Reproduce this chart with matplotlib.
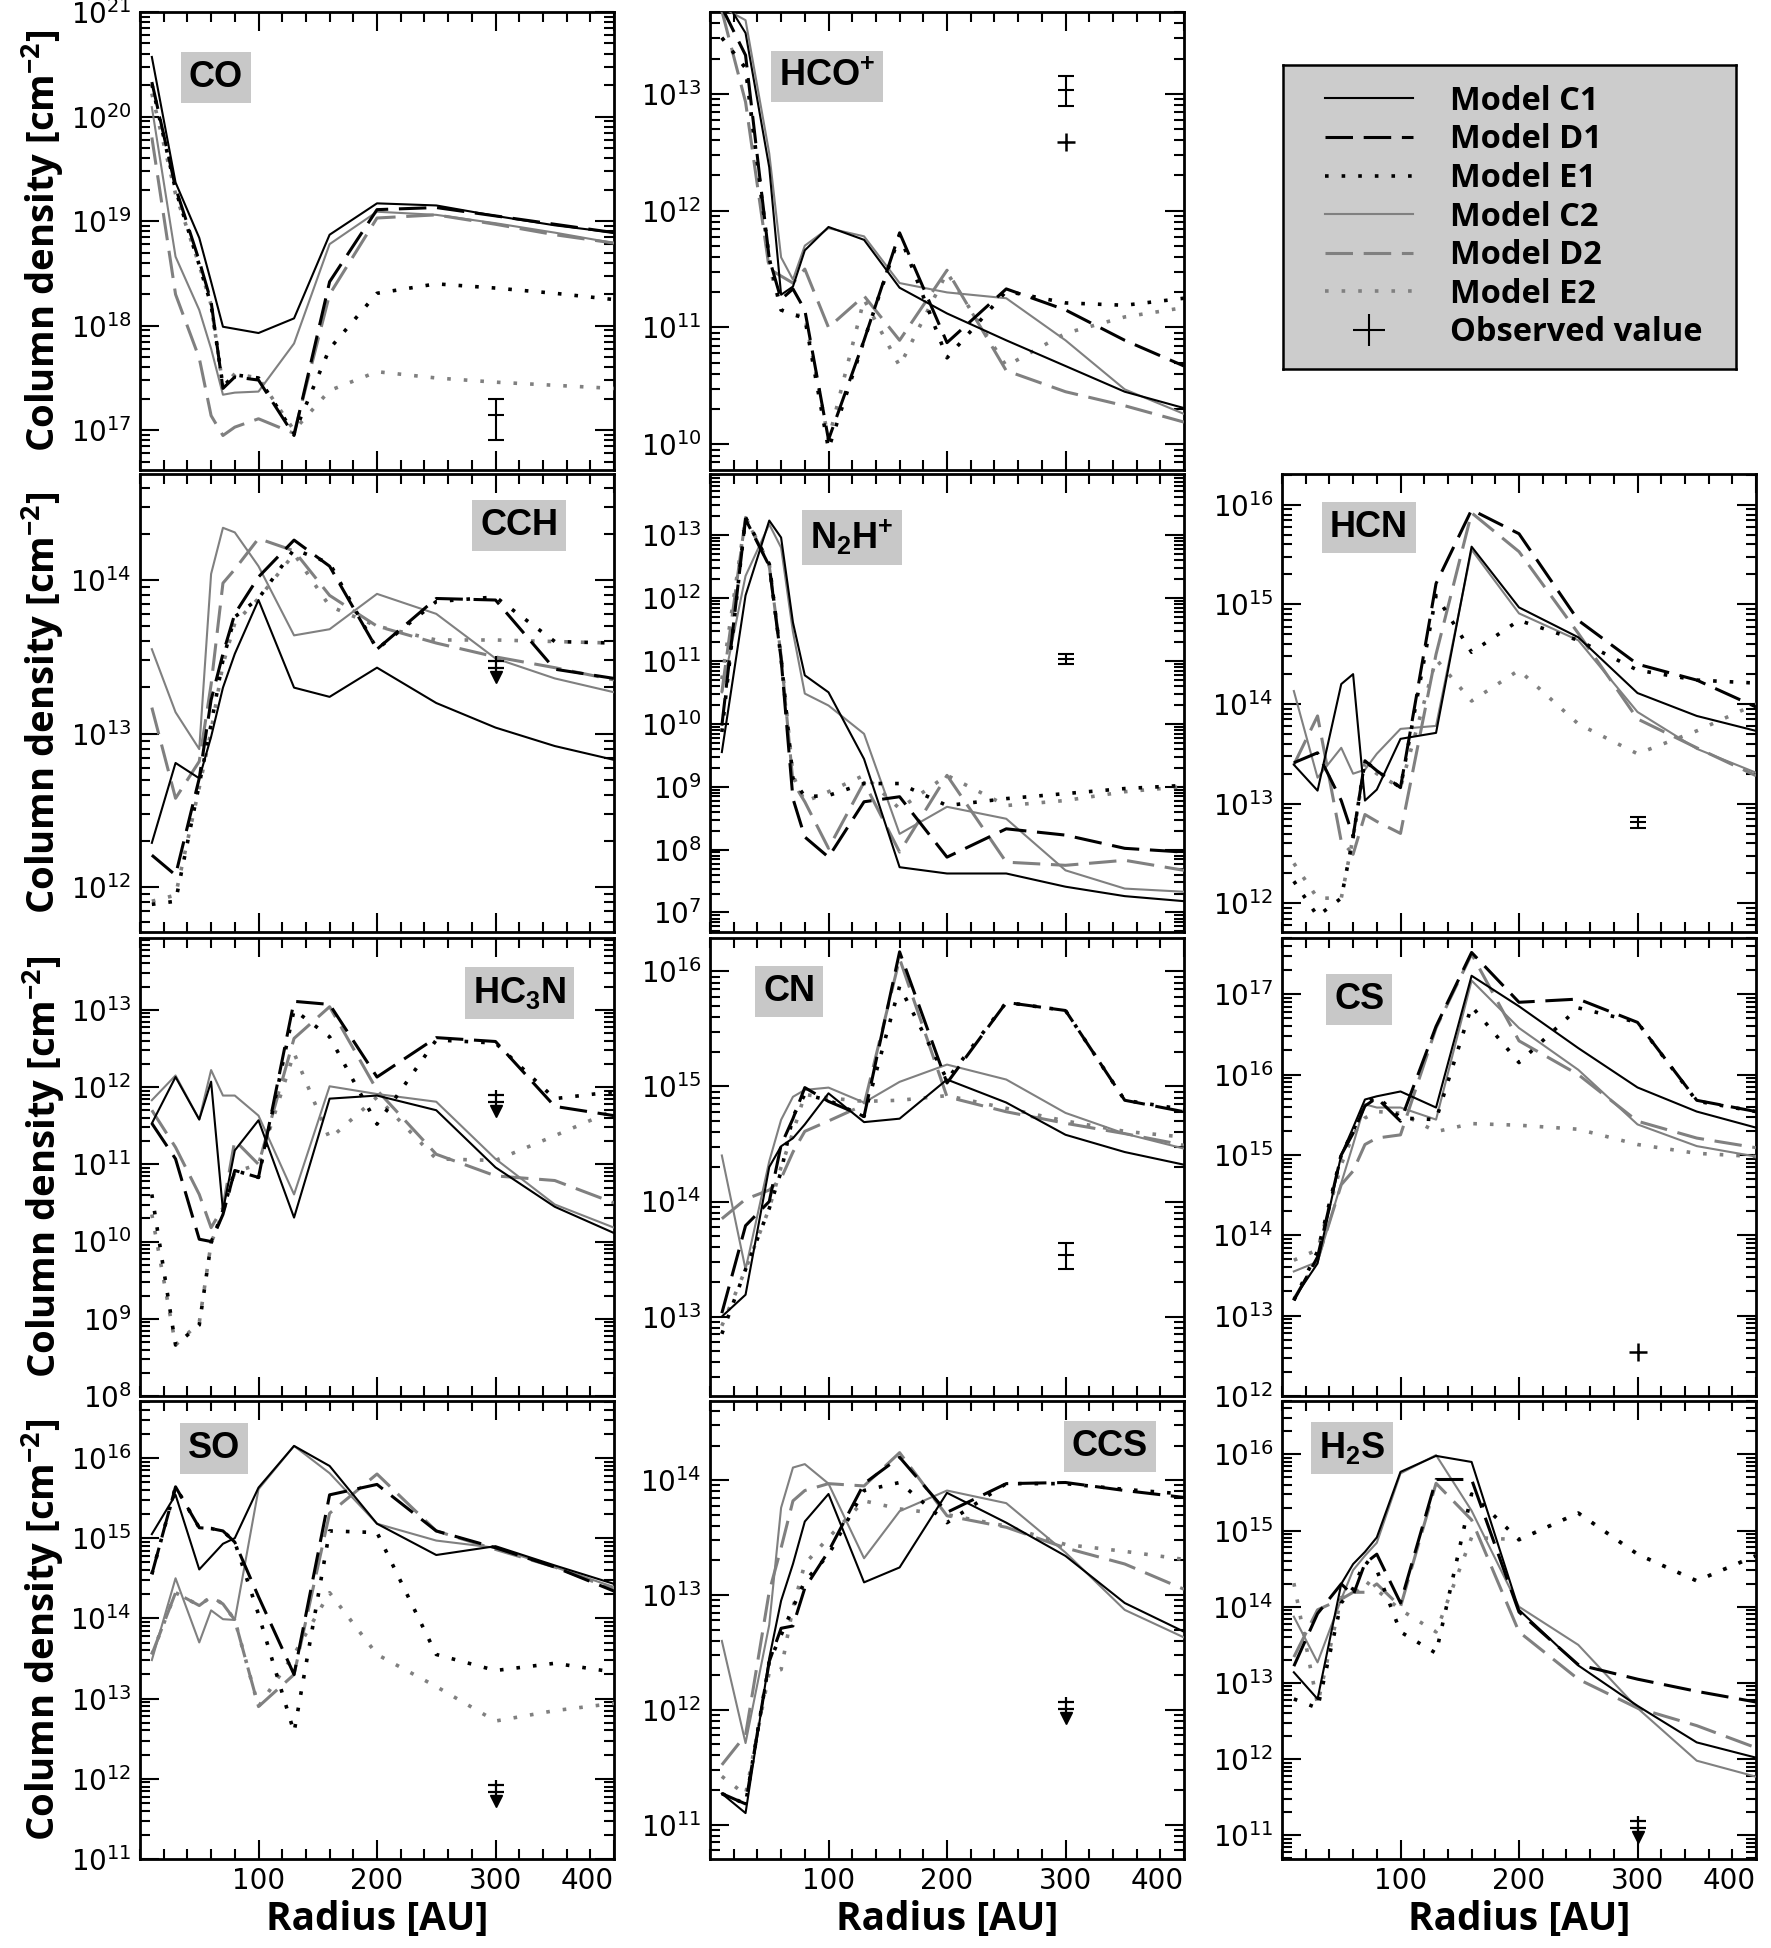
import numpy as np
import matplotlib
matplotlib.use('Agg')
import matplotlib.pyplot as plt
import matplotlib.transforms as mtransforms
from matplotlib.ticker import FixedLocator, MultipleLocator, LogLocator, LogFormatterSciNotation, NullFormatter
from matplotlib.lines import Line2D

plt.rcParams['font.family'] = ['DejaVu Sans']
plt.rcParams['mathtext.default'] = 'regular'

# radius grid of the models [AU]
R_AU = [10, 30, 50, 60, 70, 80, 100, 130, 160, 200, 250, 300, 350, 400]

# log10 column density [cm^-2]
CO_C1 = [20.57, 19.37, 18.84, 18.42, 17.99, 17.97, 17.93, 18.07, 18.87, 19.17, 19.15, 19.05, 18.96, 18.89]
CO_D1 = [20.33, 19.32, 18.62, 18.23, 17.40, 17.51, 17.48, 16.95, 18.42, 19.11, 19.13, 19.05, 18.97, 18.89]
CO_E1 = [20.31, 19.30, 18.58, 18.20, 17.42, 17.53, 17.50, 16.97, 17.78, 18.31, 18.40, 18.36, 18.31, 18.25]
CO_C2 = [20.09, 18.66, 18.15, 17.78, 17.34, 17.36, 17.37, 17.83, 18.78, 19.09, 19.06, 18.98, 18.89, 18.79]
CO_D2 = [19.80, 18.30, 17.69, 17.14, 16.95, 17.03, 17.11, 16.97, 18.30, 19.03, 19.06, 18.97, 18.87, 18.79]
CO_E2 = [20.22, 19.26, 18.58, 18.20, 17.42, 17.54, 17.50, 17.00, 17.38, 17.56, 17.50, 17.46, 17.43, 17.40]

HCOp_C1 = [13.85, 13.52, 12.37, 11.28, 11.35, 11.66, 11.86, 11.75, 11.34, 11.12, 10.89, 10.67, 10.45, 10.31]
HCOp_D1 = [13.74, 13.33, 11.59, 11.24, 11.33, 11.15, 10.04, 10.89, 11.81, 10.87, 11.33, 11.15, 10.89, 10.67]
HCOp_E1 = [13.48, 13.22, 11.59, 11.15, 11.11, 11.08, 9.96, 10.89, 11.79, 10.74, 11.31, 11.21, 11.19, 11.25]
HCOp_C2 = [13.74, 13.63, 12.49, 11.60, 11.41, 11.70, 11.85, 11.78, 11.38, 11.30, 11.25, 10.89, 10.47, 10.26]
HCOp_D2 = [13.71, 12.93, 11.50, 11.44, 11.38, 11.50, 11.00, 11.27, 10.89, 11.49, 10.63, 10.45, 10.33, 10.19]
HCOp_E2 = [13.48, 13.22, 11.53, 11.15, 11.11, 11.10, 10.04, 11.24, 10.67, 11.47, 10.67, 10.95, 11.09, 11.17]

CCH_C1 = [12.29, 12.81, 12.71, 12.98, 13.30, 13.52, 13.87, 13.30, 13.24, 13.43, 13.20, 13.04, 12.92, 12.83]
CCH_D1 = [12.21, 12.08, 12.71, 13.22, 13.52, 13.78, 14.02, 14.26, 14.09, 13.55, 13.88, 13.87, 13.42, 13.36]
CCH_E1 = [11.89, 11.91, 12.67, 13.06, 13.48, 13.76, 13.88, 14.20, 14.11, 13.55, 13.86, 13.89, 13.60, 13.59]
CCH_C2 = [13.55, 13.14, 12.90, 14.04, 14.34, 14.31, 14.09, 13.64, 13.68, 13.91, 13.78, 13.49, 13.36, 13.27]
CCH_D2 = [13.17, 12.58, 12.82, 13.32, 13.98, 14.07, 14.27, 14.19, 13.90, 13.70, 13.59, 13.50, 13.43, 13.35]
CCH_E2 = [11.91, 11.95, 12.65, 13.02, 13.45, 13.72, 13.88, 14.17, 13.83, 13.70, 13.61, 13.61, 13.60, 13.59]

N2Hp_C1 = [9.55, 12.04, 13.23, 12.96, 11.61, 10.77, 10.50, 9.44, 7.72, 7.62, 7.62, 7.41, 7.26, 7.18]
N2Hp_D1 = [9.97, 13.25, 12.51, 11.03, 8.81, 8.20, 7.88, 8.76, 8.84, 7.88, 8.33, 8.23, 8.02, 7.96]
N2Hp_E1 = [9.87, 13.28, 12.54, 11.03, 9.13, 8.84, 8.86, 9.05, 9.05, 8.70, 8.81, 8.89, 8.97, 9.02]
N2Hp_C2 = [10.50, 12.35, 13.17, 12.80, 11.46, 10.48, 10.29, 9.84, 8.25, 8.68, 8.49, 7.67, 7.38, 7.33]
N2Hp_D2 = [10.50, 13.28, 12.51, 11.08, 9.07, 8.76, 8.02, 9.07, 7.96, 9.18, 7.80, 7.75, 7.83, 7.67]
N2Hp_E2 = [10.71, 13.28, 12.54, 11.08, 9.18, 8.76, 8.92, 9.18, 8.65, 9.18, 8.70, 8.78, 8.92, 9.00]

HCN_C1 = [13.39, 13.13, 14.20, 14.30, 13.03, 13.14, 13.65, 13.71, 15.58, 14.97, 14.67, 14.11, 13.88, 13.73]
HCN_D1 = [13.41, 13.51, 13.03, 12.67, 13.43, 13.33, 13.16, 15.21, 15.95, 15.71, 14.84, 14.40, 14.24, 13.97]
HCN_E1 = [12.22, 11.87, 12.05, 12.66, 13.43, 13.33, 13.16, 15.09, 14.52, 14.84, 14.64, 14.34, 14.24, 14.21]
HCN_C2 = [14.13, 13.26, 13.56, 13.30, 13.34, 13.50, 13.75, 13.78, 15.55, 14.91, 14.64, 13.92, 13.55, 13.31]
HCN_D2 = [13.39, 13.88, 12.62, 12.49, 12.89, 12.82, 12.70, 14.50, 15.92, 15.53, 14.71, 13.85, 13.56, 13.28]
HCN_E2 = [12.40, 12.05, 12.05, 12.66, 13.40, 13.30, 13.16, 14.45, 14.03, 14.34, 13.80, 13.50, 13.73, 14.00]

HC3N_C1 = [11.53, 12.13, 11.58, 12.07, 10.40, 11.18, 11.57, 10.31, 11.85, 11.89, 11.70, 10.96, 10.45, 10.11]
HC3N_D1 = [11.53, 11.07, 10.03, 10.00, 10.35, 10.92, 10.83, 13.11, 13.07, 12.13, 12.64, 12.59, 11.75, 11.63]
HC3N_E1 = [10.61, 8.66, 8.92, 9.98, 10.40, 10.92, 10.83, 13.00, 12.65, 11.52, 12.61, 12.57, 11.85, 11.94]
HC3N_C2 = [11.83, 12.15, 11.58, 12.22, 11.89, 11.89, 11.63, 10.61, 12.01, 11.91, 11.81, 11.07, 10.48, 10.18]
HC3N_D2 = [11.70, 11.22, 10.61, 10.18, 10.44, 11.31, 11.00, 12.63, 13.04, 11.96, 11.13, 10.85, 10.79, 10.50]
HC3N_E2 = [10.35, 8.66, 8.95, 9.98, 10.38, 10.90, 11.00, 12.44, 11.33, 11.87, 11.07, 11.05, 11.37, 11.70]

CN_C1 = [13.00, 13.19, 14.30, 14.48, 14.55, 14.67, 14.94, 14.69, 14.72, 15.06, 14.86, 14.58, 14.43, 14.32]
CN_D1 = [13.03, 13.79, 14.00, 14.49, 14.72, 14.99, 14.87, 14.74, 16.17, 15.03, 15.73, 15.66, 14.88, 14.78]
CN_E1 = [12.85, 13.41, 13.94, 14.26, 14.74, 14.93, 14.88, 14.74, 15.87, 15.06, 15.73, 15.66, 14.88, 14.80]
CN_C2 = [14.40, 13.41, 14.35, 14.71, 14.91, 14.97, 14.99, 14.86, 15.04, 15.19, 15.06, 14.77, 14.59, 14.46]
CN_D2 = [13.85, 14.02, 14.10, 14.20, 14.43, 14.61, 14.70, 14.84, 16.11, 14.91, 14.78, 14.68, 14.59, 14.49]
CN_E2 = [12.92, 13.41, 13.94, 14.30, 14.60, 14.93, 14.90, 14.87, 14.88, 14.92, 14.81, 14.70, 14.61, 14.56]

CS_C1 = [13.21, 13.65, 15.00, 15.34, 15.69, 15.73, 15.79, 15.59, 17.23, 16.85, 16.33, 15.84, 15.54, 15.34]
CS_D1 = [13.19, 13.73, 15.00, 15.27, 15.61, 15.71, 15.42, 16.60, 17.52, 16.90, 16.94, 16.65, 15.68, 15.54]
CS_E1 = [13.19, 13.80, 15.00, 15.30, 15.63, 15.73, 15.46, 15.44, 16.85, 16.15, 16.83, 16.65, 15.67, 15.54]
CS_C2 = [13.55, 13.67, 14.65, 15.13, 15.63, 15.59, 15.59, 15.44, 17.17, 16.58, 16.06, 15.38, 15.11, 14.98]
CS_D2 = [13.21, 13.69, 14.63, 14.80, 15.13, 15.21, 15.25, 16.58, 17.50, 16.42, 16.00, 15.42, 15.21, 15.09]
CS_E2 = [13.69, 13.82, 14.88, 15.25, 15.46, 15.54, 15.52, 15.29, 15.39, 15.37, 15.32, 15.13, 15.02, 14.98]

SO_C1 = [15.05, 15.54, 14.61, 14.77, 14.93, 15.00, 15.63, 16.15, 15.90, 15.18, 14.79, 14.90, 14.66, 14.43]
SO_D1 = [14.55, 15.64, 15.13, 15.12, 15.09, 14.95, 14.27, 13.30, 15.54, 15.67, 15.09, 14.88, 14.64, 14.34]
SO_E1 = [14.55, 15.64, 15.13, 15.12, 15.09, 14.95, 14.05, 12.58, 15.09, 15.07, 13.55, 13.35, 13.44, 13.33]
SO_C2 = [13.48, 14.50, 13.70, 14.10, 13.99, 13.98, 15.61, 16.15, 15.81, 15.18, 14.97, 14.88, 14.64, 14.39]
SO_D2 = [13.55, 14.32, 14.16, 14.27, 14.18, 13.98, 12.90, 13.30, 15.31, 15.80, 15.09, 14.86, 14.64, 14.36]
SO_E2 = [13.55, 14.32, 14.16, 14.27, 14.18, 13.98, 12.90, 13.55, 14.32, 13.55, 13.15, 12.72, 12.85, 12.94]

CCS_C1 = [11.27, 11.10, 12.45, 12.95, 13.27, 13.64, 13.88, 13.11, 13.24, 13.89, 13.63, 13.34, 12.93, 12.68]
CCS_D1 = [11.27, 11.18, 12.42, 12.71, 12.73, 13.06, 13.38, 13.97, 14.20, 13.72, 13.97, 13.98, 13.91, 13.85]
CCS_E1 = [11.27, 11.18, 12.42, 12.65, 12.89, 13.12, 13.35, 13.91, 13.98, 13.63, 13.97, 13.97, 13.92, 13.88]
CCS_C2 = [12.60, 11.71, 12.74, 13.76, 14.11, 14.14, 13.97, 13.32, 13.73, 13.91, 13.80, 13.37, 12.87, 12.63]
CCS_D2 = [11.52, 11.78, 13.03, 13.41, 13.82, 13.91, 13.97, 13.95, 14.24, 13.69, 13.59, 13.41, 13.27, 13.05]
CCS_E2 = [11.42, 11.26, 12.33, 12.35, 12.89, 13.27, 13.50, 13.82, 13.75, 13.70, 13.60, 13.44, 13.38, 13.31]

H2S_C1 = [13.14, 12.79, 14.30, 14.56, 14.72, 14.91, 15.77, 15.98, 15.90, 13.96, 13.23, 12.70, 12.22, 12.02]
H2S_D1 = [13.22, 13.91, 14.30, 14.15, 14.57, 14.69, 14.05, 15.67, 15.67, 13.93, 13.24, 13.05, 12.89, 12.75]
H2S_E1 = [12.79, 12.67, 14.05, 14.24, 14.60, 14.48, 13.67, 13.39, 15.48, 14.88, 15.23, 14.69, 14.34, 14.67]
H2S_C2 = [13.87, 13.27, 14.10, 14.48, 14.67, 14.84, 15.75, 15.99, 15.26, 14.00, 13.50, 12.67, 11.98, 11.77]
H2S_D2 = [13.34, 13.96, 14.10, 14.19, 14.19, 14.30, 14.00, 15.62, 15.14, 13.67, 13.05, 12.67, 12.44, 12.15]
H2S_E2 = [14.31, 12.72, 14.12, 14.15, 14.34, 14.22, 13.96, 13.67, 14.91, 14.88, 15.23, 14.69, 14.34, 14.67]

# observed values at 300 AU: (kind, value, lower, upper)
OBS_R = 300
CO_obs = [('err', 1.4e17, 0.81e17, 2.0e17)]
HCOp_obs = [('err', 1.07e13, 0.79e13, 1.41e13), ('plus', 3.9e12, None, None)]
CCH_obs = [('limit', 2.8e13, None, None)]
N2Hp_obs = [('err', 1.07e11, 0.88e11, 1.28e11)]
HCN_obs = [('err', 6.5e12, 5.7e12, 7.4e12)]
HC3N_obs = [('limit', 7.0e11, None, None)]
CN_obs = [('err', 3.4e13, 2.6e13, 4.4e13)]
CS_obs = [('plus', 3.5e12, None, None)]
SO_obs = [('limit', 7.5e11, None, None)]
CCS_obs = [('limit', 1.07e12, None, None)]
H2S_obs = [('limit', 1.35e11, None, None)]

# y-range (log10) of each panel
CO_ylim = (16.62, 21.0)
HCOp_ylim = (9.78, 13.70)
CCH_ylim = (11.71, 14.69)
N2Hp_ylim = (6.69, 13.97)
HCN_ylim = (11.71, 16.31)
HC3N_ylim = (8.0, 13.93)
CN_ylim = (12.31, 16.29)
CS_ylim = (12.0, 17.70)
SO_ylim = (11.0, 16.71)
CCS_ylim = (10.70, 14.69)
H2S_ylim = (10.69, 16.70)

MODEL_NAMES = ['Model C1', 'Model D1', 'Model E1', 'Model C2', 'Model D2', 'Model E2']

GRAY = '#808080'
DASH = (0, (9, 3.5))
DOT = (0, (1, 3.6))
styles = [
    dict(color='black', ls='-', lw=1.5, zorder=4),
    dict(color='black', ls=DASH, lw=2.2, zorder=4),
    dict(color='black', ls=DOT, lw=2.6, zorder=4),
    dict(color=GRAY, ls='-', lw=1.5, zorder=3),
    dict(color=GRAY, ls=DASH, lw=2.2, zorder=3),
    dict(color=GRAY, ls=DOT, lw=2.6, zorder=3),
]

# (label, models, obs, ylim, row, col, label x, label y)
panels = [
    ('CO', [CO_C1, CO_D1, CO_E1, CO_C2, CO_D2, CO_E2], CO_obs, CO_ylim, 0, 0, 0.16, 0.857),
    ('HCO$^{+}$', [HCOp_C1, HCOp_D1, HCOp_E1, HCOp_C2, HCOp_D2, HCOp_E2], HCOp_obs, HCOp_ylim, 0, 1, 0.247, 0.86),
    ('CCH', [CCH_C1, CCH_D1, CCH_E1, CCH_C2, CCH_D2, CCH_E2], CCH_obs, CCH_ylim, 1, 0, 0.80, 0.887),
    ('N$_{2}$H$^{+}$', [N2Hp_C1, N2Hp_D1, N2Hp_E1, N2Hp_C2, N2Hp_D2, N2Hp_E2], N2Hp_obs, N2Hp_ylim, 1, 1, 0.30, 0.862),
    ('HCN', [HCN_C1, HCN_D1, HCN_E1, HCN_C2, HCN_D2, HCN_E2], HCN_obs, HCN_ylim, 1, 2, 0.183, 0.883),
    ('HC$_{3}$N', [HC3N_C1, HC3N_D1, HC3N_E1, HC3N_C2, HC3N_D2, HC3N_E2], HC3N_obs, HC3N_ylim, 2, 0, 0.80, 0.88),
    ('CN', [CN_C1, CN_D1, CN_E1, CN_C2, CN_D2, CN_E2], CN_obs, CN_ylim, 2, 1, 0.167, 0.884),
    ('CS', [CS_C1, CS_D1, CS_E1, CS_C2, CS_D2, CS_E2], CS_obs, CS_ylim, 2, 2, 0.163, 0.866),
    ('SO', [SO_C1, SO_D1, SO_E1, SO_C2, SO_D2, SO_E2], SO_obs, SO_ylim, 3, 0, 0.157, 0.897),
    ('CCS', [CCS_C1, CCS_D1, CCS_E1, CCS_C2, CCS_D2, CCS_E2], CCS_obs, CCS_ylim, 3, 1, 0.843, 0.90),
    ('H$_{2}$S', [H2S_C1, H2S_D1, H2S_E1, H2S_C2, H2S_D2, H2S_E2], H2S_obs, H2S_ylim, 3, 2, 0.148, 0.897),
]

W, H = 1771, 1948
fig = plt.figure(figsize=(W / 100, H / 100), dpi=100)

col_x = [140, 710, 1282]
row_y = [12, 474, 938, 1401]
ax_w, ax_h = 474, 458

r = np.array(R_AU)

for label, models, obs, ylim, row, col, lx, ly in panels:
    ax = fig.add_axes([col_x[col] / W, 1 - (row_y[row] + ax_h) / H, ax_w / W, ax_h / H])

    for vals, st in zip(models, styles):
        ax.plot(r, 10 ** np.array(vals), **st)

    for kind, v, lo, hi in obs:
        if kind == 'err':
            ax.errorbar(OBS_R, v, yerr=[[v - lo], [hi - v]], fmt='_', ms=11, mew=1.5,
                        color='black', ecolor='black', elinewidth=1.5, capsize=5.5, capthick=1.5, zorder=6)
        elif kind == 'plus':
            ax.plot(OBS_R, v, marker='+', ms=13, mew=1.8, color='black', ls='none', zorder=6)
        else:
            # upper limit: double bar with arrow head below
            for dy in (4, -3):
                tr = mtransforms.offset_copy(ax.transData, fig=fig, y=dy, units='dots')
                ax.plot(OBS_R, v, marker='_', ms=11, mew=1.6, color='black', transform=tr, zorder=6)
            tr = mtransforms.offset_copy(ax.transData, fig=fig, y=1, units='dots')
            ax.plot(OBS_R, v, marker='|', ms=11, mew=1.6, color='black', transform=tr, zorder=6)
            tr = mtransforms.offset_copy(ax.transData, fig=fig, y=-12, units='dots')
            ax.plot(OBS_R, v, marker='v', ms=9, color='black', transform=tr, zorder=6)

    ax.set_yscale('log')
    ax.set_ylim(10 ** ylim[0], 10 ** ylim[1])
    ax.set_xlim(0, 400)

    ax.xaxis.set_major_locator(FixedLocator([100, 200, 300, 400]))
    ax.xaxis.set_minor_locator(MultipleLocator(20))
    ax.yaxis.set_major_locator(LogLocator(base=10, numticks=30))
    ax.yaxis.set_minor_locator(LogLocator(base=10, subs=np.arange(2, 10), numticks=30))
    ax.yaxis.set_major_formatter(LogFormatterSciNotation())
    ax.yaxis.set_minor_formatter(NullFormatter())

    ax.tick_params(which='both', direction='in', top=True, right=True, width=1.5, labelsize=20)
    ax.tick_params(which='major', length=14)
    ax.tick_params(which='minor', length=7)
    ax.tick_params(axis='x', pad=6)
    ax.tick_params(axis='y', pad=6)
    for sp in ax.spines.values():
        sp.set_linewidth(2)

    if row == 3:
        ax.set_xlabel('Radius [AU]', fontsize=28, fontweight='bold', family='Open Sans', labelpad=3)
        # last label sits flush with the right end of the axis
        ax.xaxis.get_major_ticks()[-1].label1.set_horizontalalignment('right')
    else:
        ax.tick_params(axis='x', labelbottom=False)
    if col == 0:
        ax.set_ylabel('Column density [cm$^{-2}$]', fontsize=27.5, fontweight='bold',
                      family='Open Sans', labelpad=3)

    ax.text(lx, ly, label, transform=ax.transAxes, ha='center', va='center',
            fontsize=26, fontweight='bold', family='Liberation Sans', zorder=7,
            bbox=dict(boxstyle='square,pad=0.22', fc='#c8c8c8', ec='none'))

# legend in the empty top-right slot
lax = fig.add_axes([1283 / W, 1 - 369 / H, 453 / W, 304 / H])
lax.set_facecolor('#cccccc')
lax.set_xticks([])
lax.set_yticks([])
for sp in lax.spines.values():
    sp.set_linewidth(1.8)
handles = [Line2D([], [], color=st['color'], ls=st['ls'], lw=st['lw']) for st in styles]
handles.append(Line2D([], [], color='black', marker='+', ms=23, mew=1.5, ls='none'))
labels = MODEL_NAMES + ['Observed value']
lax.legend(handles, labels, loc='center left', bbox_to_anchor=(0.057, 0.5), frameon=False,
           prop=dict(family='Open Sans', weight='bold', size=23.5),
           handlelength=2.7, handletextpad=1.14, labelspacing=0.17, borderpad=0)

fig.savefig('out.png', dpi=100)
